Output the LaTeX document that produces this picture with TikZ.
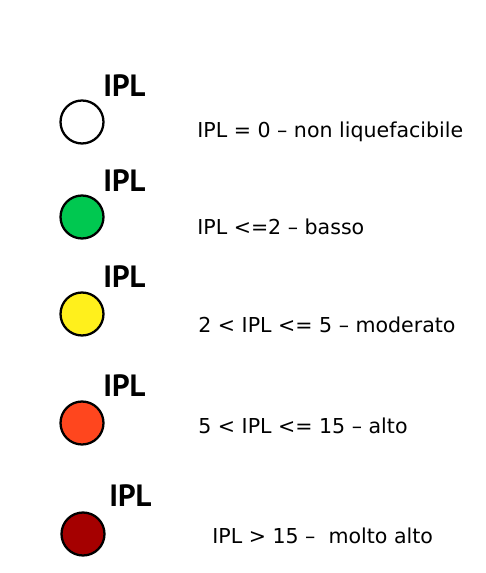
\documentclass[tikz,border=0pt]{standalone}
\usepackage{fontspec}
\setmainfont{DejaVu Sans}
\newfontfamily\ipllabelfont{PT Sans}
\usepackage{xcolor}
\usetikzlibrary{positioning}
\definecolor{iplgreen}{HTML}{00C850}
\definecolor{iplyellow}{HTML}{FFF01C}
\definecolor{iplorange}{HTML}{FF461E}
\definecolor{ipldarkred}{HTML}{A50000}
\tikzset{
	dot/.style = {
			circle,
			draw            = black,
			line width      = 1.3pt,
			minimum size    = 0.86cm,
			inner sep       = 0pt,
		},
	ipllabel/.style = {
			anchor    = base west,
			inner sep = 0pt,
			font      = \ipllabelfont\bfseries\fontsize{17.5}{20}\selectfont
		},
	legend/.style = {
			anchor    = base west,
			inner sep = 0pt,
			font      = \fontsize{11.7}{13}\selectfont
		}
}

\begin{document}
\begin{tikzpicture}[x=0.02cm,y=-0.02cm]
    \useasboundingbox (0,0) rectangle (485,573);

    \node[dot, fill=white] at (82,122) (none) {};
    \node[ipllabel] at (103,97) (nonelabel) {IPL};
    \node[legend] at (197,138) (nonetext) {IPL = 0 – non liquefacibile};

    \node[dot, fill=iplgreen] at (82,217) (low) {};
    \node[ipllabel] at (103,192) (lowlabel) {IPL};
    \node[legend] at (197,235) (lowtext) {IPL <=2 – basso};

    \node[dot, fill=iplyellow] at (82,314) (moderate) {};
    \node[ipllabel] at (103,288) (moderatelabel) {IPL};
    \node[legend] at (198,333) (moderatetext) {2 < IPL <= 5 – moderato};

    \node[dot, fill=iplorange] at (82,423) (high) {};
    \node[ipllabel] at (103,396) (highlabel) {IPL};
    \node[legend] at (198,433) (hightext) {5 < IPL <= 15 – alto};

    \node[dot, fill=ipldarkred] at (83,534) (veryhigh) {};
    \node[ipllabel] at (109,506) (veryhighlabel) {IPL};
    \node[legend] at (212,543) (veryhightext) {IPL > 15 –~ molto alto};
  \end{tikzpicture}
\end{document}
